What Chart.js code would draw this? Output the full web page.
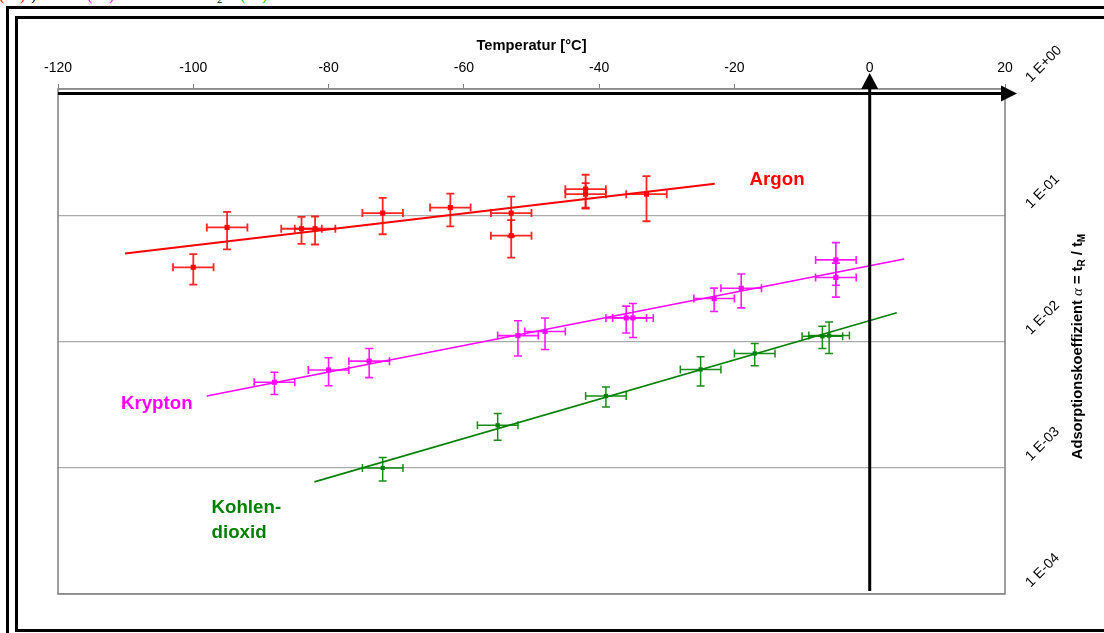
<!DOCTYPE html>
<html>
<head>
<meta charset="utf-8">
<script src="https://cdn.jsdelivr.net/npm/chart.js@4.4.1/dist/chart.umd.min.js"></script>
<style>
html,body{margin:0;padding:0;background:#fff;overflow:hidden;}
#wrap{position:relative;width:1104px;height:633px;overflow:hidden;background:#fff;}
.frame{position:absolute;border:3px solid #000;box-sizing:border-box;}
#c{position:absolute;left:0;top:0;}
.frag{position:absolute;top:-13px;font:16px/16px 'Liberation Serif',serif;white-space:nowrap;}
</style>
</head>
<body>
<div id="wrap">
  <div class="frame" style="left:6px;top:6px;width:1300px;height:800px"></div>
  <div class="frame" style="left:15px;top:16px;width:1300px;height:616px"></div>
  <span class="frag" style="left:-1px;color:#ff0000">(</span>
  <span class="frag" style="left:20px;color:#ff0000">)</span>
  <span class="frag" style="left:31px;color:#000">)</span>
  <span class="frag" style="left:87px;color:#ff00ff">(</span>
  <span class="frag" style="left:109px;color:#ff00ff">)</span>
  <span class="frag" style="left:217px;top:-9px;font-size:11px;color:#000">2</span>
  <span class="frag" style="left:240px;color:#00cc00">(</span>
  <span class="frag" style="left:262px;color:#00cc00">)</span>
  <canvas id="c" width="1104" height="633"></canvas>
</div>
<script>
// ---------- data ----------
const xTicks = [-120, -100, -80, -60, -40, -20, 0, 20];
const yTicks = [1, 0.1, 0.01, 0.001, 0.0001];
const yTickLabels = ['1 E+00', '1 E-01', '1 E-02', '1 E-03', '1 E-04'];

// Argon
const argonT    = [-100, -95, -84, -82, -72, -62, -53, -53, -42, -42, -33];
const argonA    = [0.0387, 0.0801, 0.0782, 0.0782, 0.104, 0.115, 0.104, 0.0689, 0.161, 0.147, 0.147];
const argonErrT = [3, 3, 3, 3, 3, 3, 3, 3, 3, 3, 3];
const argonErrA = [0.27, 0.33, 0.24, 0.25, 0.32, 0.29, 0.35, 0.33, 0.30, 0.22, 0.39];
const argonFitT = [-110.1, -22.9];
const argonFitA = [0.0497, 0.1774];

// Krypton
const kryptonT    = [-88, -80, -74, -52, -48, -36, -35, -23, -19, -5, -5];
const kryptonA    = [0.00476, 0.00595, 0.00699, 0.01114, 0.0120, 0.01538, 0.01538, 0.02188, 0.02638, 0.0443, 0.0321];
const kryptonErrT = [3, 3, 3, 3, 3, 3, 3, 3, 3, 3, 3];
const kryptonErrA = [0.20, 0.25, 0.26, 0.31, 0.28, 0.24, 0.30, 0.21, 0.30, 0.37, 0.30];
const kryptonFitT = [-98.0, 5.1];
const kryptonFitA = [0.00370, 0.0451];

// Kohlendioxid
const co2T    = [-72, -55, -39, -25, -17, -7, -6];
const co2A    = [0.000996, 0.00217, 0.00370, 0.00601, 0.00804, 0.0110, 0.01114];
const co2ErrT = [3, 3, 3, 3, 3, 3, 3];
const co2ErrA = [0.21, 0.24, 0.18, 0.26, 0.20, 0.20, 0.28];
const co2FitT = [-82.1, 4.0];
const co2FitA = [0.000773, 0.01687];

// series annotations (text, anchor in data coordinates)
const seriesLabels = [
  {lines: ['Argon'],            t: -13.7,  a: 0.191,    color: '#ff0000', align: 'center'},
  {lines: ['Krypton'],          t: -105.4, a: 0.00318,  color: '#ff00ff', align: 'center'},
  {lines: ['Kohlen-', 'dioxid'], t: -97.3, a: 0.000479, color: '#008000', align: 'left'}
];

// ---------- helpers ----------
const pts = (xs, ys) => xs.map((v, i) => ({x: v, y: ys[i]}));
const FONT = "'Liberation Sans', Arial, sans-serif";

const errorBarPlugin = {
  id: 'errorBars',
  beforeDatasetsDraw(chart) {
    const {ctx, scales: {x, y}} = chart;
    chart.data.datasets.forEach((ds, i) => {
      if (!ds.errT || !chart.isDatasetVisible(i)) return;
      ctx.save();
      ctx.strokeStyle = ds.barColor;
      ctx.lineWidth = ds.barWidth;
      const c = 4;
      ds.data.forEach((p, j) => {
        const px = x.getPixelForValue(p.x), py = y.getPixelForValue(p.y);
        const x1 = x.getPixelForValue(p.x - ds.errT[j]), x2 = x.getPixelForValue(p.x + ds.errT[j]);
        const y1 = y.getPixelForValue(p.y * (1 + ds.errA[j])), y2 = y.getPixelForValue(p.y * (1 - ds.errA[j]));
        ctx.beginPath();
        ctx.moveTo(x1, py); ctx.lineTo(x2, py);
        ctx.moveTo(x1, py - c); ctx.lineTo(x1, py + c);
        ctx.moveTo(x2, py - c); ctx.lineTo(x2, py + c);
        ctx.moveTo(px, y1); ctx.lineTo(px, y2);
        ctx.moveTo(px - c, y1); ctx.lineTo(px + c, y1);
        ctx.moveTo(px - c, y2); ctx.lineTo(px + c, y2);
        ctx.stroke();
      });
      ctx.restore();
    });
  }
};

const framePlugin = {
  id: 'frameArrows',
  beforeDatasetsDraw(chart) {
    const {ctx, chartArea: a} = chart;
    ctx.save();
    ctx.strokeStyle = '#808080';
    ctx.lineWidth = 1.5;
    ctx.strokeRect(a.left, a.top, a.right - a.left, a.bottom - a.top);
    ctx.restore();
  },
  afterDraw(chart) {
    const {ctx, chartArea: a, scales: {x, y}} = chart;
    ctx.save();
    ctx.fillStyle = '#000';
    ctx.strokeStyle = '#000';
    ctx.lineWidth = 3;
    // horizontal arrow (temperature axis)
    const ay = a.top + 4.5;
    ctx.beginPath();
    ctx.moveTo(a.left, ay); ctx.lineTo(a.right - 2, ay); ctx.stroke();
    ctx.beginPath();
    ctx.moveTo(a.right - 4, ay - 8); ctx.lineTo(a.right + 12, ay); ctx.lineTo(a.right - 4, ay + 8); ctx.closePath(); ctx.fill();
    // vertical arrow at 0 °C
    const ax = x.getPixelForValue(0);
    ctx.beginPath();
    ctx.moveTo(ax, a.bottom - 3); ctx.lineTo(ax, a.top - 2); ctx.stroke();
    ctx.beginPath();
    ctx.moveTo(ax - 8.5, a.top); ctx.lineTo(ax, a.top - 16); ctx.lineTo(ax + 8.5, a.top); ctx.closePath(); ctx.fill();
    ctx.restore();

    // series labels
    ctx.save();
    ctx.font = "bold 18.7px " + FONT;
    ctx.textBaseline = 'middle';
    seriesLabels.forEach(l => {
      const px = x.getPixelForValue(l.t), py = y.getPixelForValue(l.a);
      ctx.fillStyle = l.color;
      ctx.textAlign = l.align;
      l.lines.forEach((s, k) => ctx.fillText(s, px, py + k * 25));
    });
    ctx.restore();

    // y-axis title with subscripts, rotated
    const segs = [
      {t: 'Adsorptionskoeffizient ', f: "bold 14.7px " + FONT, dy: 0},
      {t: '\u03b1', f: "italic 15px 'Liberation Serif', serif", dy: 0},
      {t: ' = t', f: "bold 14.7px " + FONT, dy: 0},
      {t: 'R', f: "bold 10px " + FONT, dy: 4},
      {t: ' / t', f: "bold 14.7px " + FONT, dy: 0},
      {t: 'M', f: "bold 10px " + FONT, dy: 4}
    ];
    ctx.save();
    let total = 0;
    segs.forEach(s => { ctx.font = s.f; s.w = ctx.measureText(s.t).width; total += s.w; });
    const cx = a.right + 73, cy = (a.top + a.bottom) / 2 + 5;
    ctx.translate(cx, cy);
    ctx.rotate(-Math.PI / 2);
    ctx.fillStyle = '#000';
    ctx.textBaseline = 'middle';
    ctx.textAlign = 'left';
    let pos = -total / 2;
    segs.forEach(s => { ctx.font = s.f; ctx.fillText(s.t, pos, s.dy); pos += s.w; });
    ctx.restore();
  }
};

new Chart(document.getElementById('c'), {
  type: 'scatter',
  data: {
    datasets: [
      {label: 'Argon Fit', data: pts(argonFitT, argonFitA), showLine: true, pointRadius: 0, borderColor: '#ff0000', borderWidth: 2, fill: false},
      {label: 'Krypton Fit', data: pts(kryptonFitT, kryptonFitA), showLine: true, pointRadius: 0, borderColor: '#ff00ff', borderWidth: 1.6, fill: false},
      {label: 'CO2 Fit', data: pts(co2FitT, co2FitA), showLine: true, pointRadius: 0, borderColor: '#008000', borderWidth: 1.6, fill: false},
      {label: 'Argon', data: pts(argonT, argonA), errT: argonErrT, errA: argonErrA, barColor: 'rgba(255,0,0,0.85)', barWidth: 1.8,
       pointStyle: 'rect', pointRadius: 3.6, backgroundColor: '#ff0000', borderColor: '#ff0000', borderWidth: 0},
      {label: 'Krypton', data: pts(kryptonT, kryptonA), errT: kryptonErrT, errA: kryptonErrA, barColor: 'rgba(255,0,255,0.9)', barWidth: 1.6,
       pointStyle: 'rect', pointRadius: 3.6, backgroundColor: '#ff00ff', borderColor: '#ff00ff', borderWidth: 0},
      {label: 'Kohlendioxid', data: pts(co2T, co2A), errT: co2ErrT, errA: co2ErrA, barColor: 'rgba(0,128,0,0.9)', barWidth: 1.5,
       pointStyle: 'rect', pointRadius: 3, backgroundColor: '#008000', borderColor: '#008000', borderWidth: 0}
    ]
  },
  options: {
    responsive: false,
    animation: false,
    layout: {padding: {left: 58, right: 0, top: 0, bottom: 39}},
    plugins: {legend: {display: false}, tooltip: {enabled: false}},
    scales: {
      x: {
        type: 'linear',
        position: 'top',
        min: -120, max: 20,
        afterBuildTicks: s => { s.ticks = xTicks.map(v => ({value: v})); },
        afterFit: s => { s.height = 89; },
        grid: {drawOnChartArea: false, drawTicks: true, tickLength: 5, color: '#808080', lineWidth: 1},
        border: {display: false},
        ticks: {color: '#000', font: {family: FONT, size: 14}, padding: 7, maxRotation: 0, autoSkip: false,
                callback: v => String(v)},
        title: {display: true, text: 'Temperatur [°C]', color: '#000', font: {family: FONT, size: 14.7, weight: 'bold'},
                padding: {top: 37, bottom: 0}}
      },
      y: {
        type: 'logarithmic',
        position: 'right',
        min: 0.0001, max: 1,
        afterBuildTicks: s => { s.ticks = yTicks.map(v => ({value: v})); },
        afterFit: s => { s.width = 99; },
        grid: {drawOnChartArea: true, drawTicks: false, color: '#ababab', lineWidth: 1.2},
        border: {display: false},
        ticks: {color: '#000', font: {family: FONT, size: 14}, padding: 23, labelOffset: -9, minRotation: 45, maxRotation: 45,
                autoSkip: false, callback: (v) => yTickLabels[yTicks.indexOf(v)] ?? ''}
      }
    }
  },
  plugins: [errorBarPlugin, framePlugin]
});
</script>
</body>
</html>
